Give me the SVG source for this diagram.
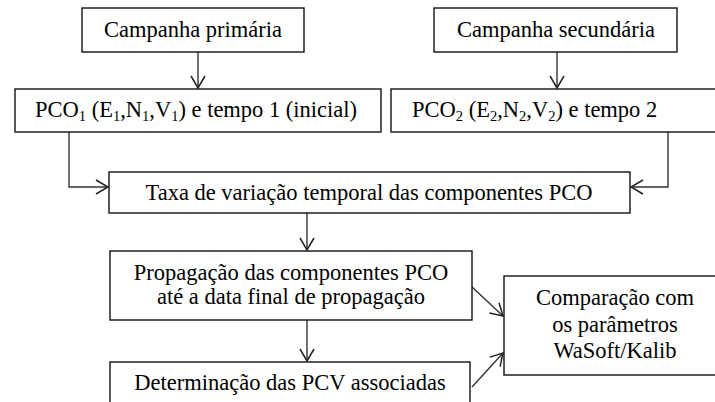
<svg xmlns="http://www.w3.org/2000/svg" width="715" height="402" viewBox="0 0 715 402">
<style>
.box{fill:#fff;stroke:#111;stroke-width:1.4}
.t{font-family:"Liberation Serif","Times New Roman",serif;font-size:22.5px;fill:#000}
.c{text-anchor:middle}
.sub{font-size:14.5px}
.ln{fill:none;stroke:#333;stroke-width:1.4}
</style>
<defs>
<marker id="ah" markerUnits="userSpaceOnUse" viewBox="0 0 14 16" refX="13" refY="8" markerWidth="14" markerHeight="16" orient="auto">
<path d="M1,1 L13,8 L1,15" fill="none" stroke="#222" stroke-width="1.5"/>
</marker>
</defs>
<rect width="715" height="402" fill="#fff"/>
<g id="connectors">
<line class="ln" x1="198" y1="52" x2="198" y2="88" marker-end="url(#ah)"/>
<line class="ln" x1="557" y1="52" x2="557" y2="88" marker-end="url(#ah)"/>
<polyline class="ln" points="69,132 69,187 108,187" marker-end="url(#ah)"/>
<polyline class="ln" points="668,132 668,187 631,187" marker-end="url(#ah)"/>
<line class="ln" x1="307" y1="213" x2="307" y2="250" marker-end="url(#ah)"/>
<line class="ln" x1="307" y1="320" x2="307" y2="361" marker-end="url(#ah)"/>
<line class="ln" x1="472" y1="287" x2="503" y2="316" marker-end="url(#ah)"/>
<line class="ln" x1="472" y1="387" x2="503" y2="353" marker-end="url(#ah)"/>
</g>
<g id="n1">
<rect class="box" x="82" y="8" width="222" height="44"/>
<text class="t c" x="193" y="37">Campanha primária</text>
</g>
<g id="n2">
<rect class="box" x="15" y="89" width="366" height="43"/>
<text class="t" x="35" y="117">PCO<tspan class="sub" dy="4">1</tspan><tspan dy="-4"> (E</tspan><tspan class="sub" dy="4">1</tspan><tspan dy="-4">,N</tspan><tspan class="sub" dy="4">1</tspan><tspan dy="-4">,V</tspan><tspan class="sub" dy="4">1</tspan><tspan dy="-4">) e tempo 1 (inicial)</tspan></text>
</g>
<g id="n3">
<rect class="box" x="434" y="8" width="243" height="44"/>
<text class="t c" x="556" y="37">Campanha secundária</text>
</g>
<g id="n4">
<rect class="box" x="391" y="89" width="340" height="43"/>
<text class="t" x="412" y="117">PCO<tspan class="sub" dy="4">2</tspan><tspan dy="-4"> (E</tspan><tspan class="sub" dy="4">2</tspan><tspan dy="-4">,N</tspan><tspan class="sub" dy="4">2</tspan><tspan dy="-4">,V</tspan><tspan class="sub" dy="4">2</tspan><tspan dy="-4">) e tempo 2</tspan></text>
</g>
<g id="n5">
<rect class="box" x="109" y="172" width="521" height="41"/>
<text class="t c" x="369" y="200">Taxa de variação temporal das componentes PCO</text>
</g>
<g id="n6">
<rect class="box" x="110" y="251" width="362" height="69"/>
<text class="t c" x="291" y="280">Propagação das componentes PCO</text>
<text class="t c" x="291" y="304">até a data final de propagação</text>
</g>
<g id="n7">
<rect class="box" x="110" y="362" width="360" height="50"/>
<text class="t c" x="290" y="390">Determinação das PCV associadas</text>
</g>
<g id="n8">
<rect class="box" x="504" y="276" width="230" height="99"/>
<text class="t c" x="615" y="305">Comparação com</text>
<text class="t c" x="615" y="332">os parâmetros</text>
<text class="t c" x="615" y="358">WaSoft/Kalib</text>
</g>
</svg>
